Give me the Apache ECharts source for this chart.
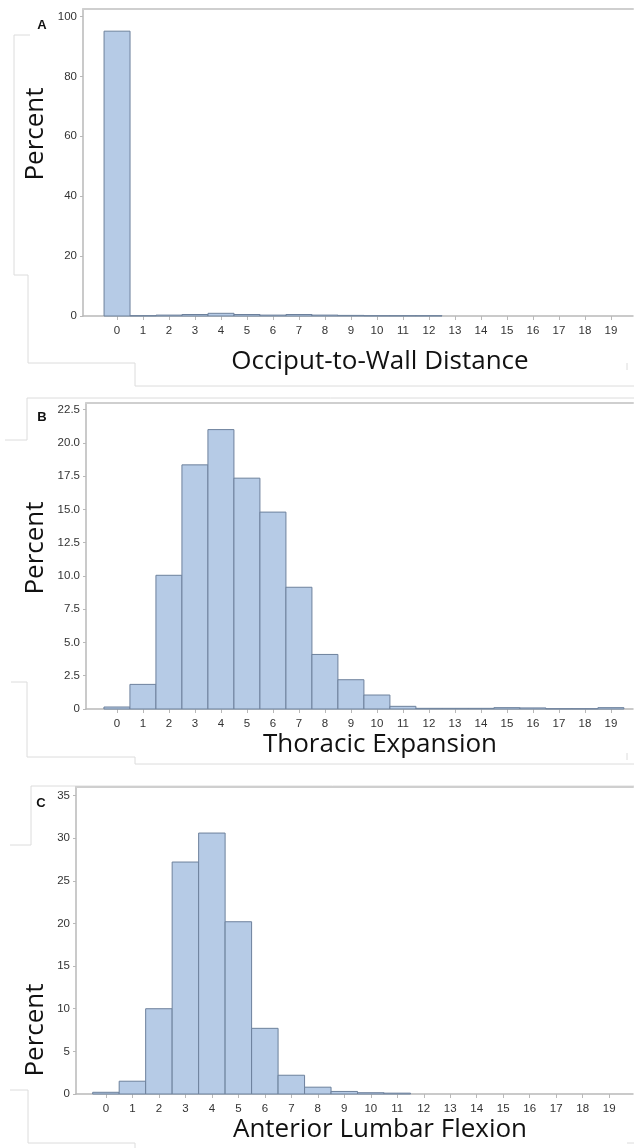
<!DOCTYPE html>
<html><head><meta charset="utf-8">
<script src="https://cdn.jsdelivr.net/npm/echarts@6/dist/echarts.min.js"></script>
<style>html,body{margin:0;padding:0;background:#fff}#c{width:634px;height:1148px}</style>
</head><body><div id="c"></div>
<script>
const bins = [0,1,2,3,4,5,6,7,8,9,10,11,12,13,14,15,16,17,18,19];
const occiputPct = [95.1,0.1,0.3,0.5,0.9,0.5,0.3,0.5,0.3,0.2,0.1,0.1,0.1,0,0,0,0,0,0,0];
const thoracicPct = [0.15,1.85,10.05,18.35,21.0,17.35,14.8,9.15,4.1,2.2,1.05,0.2,0.05,0.05,0.05,0.1,0.08,0.02,0.02,0.1];
const lumbarPct = [0.2,1.5,10.0,27.2,30.6,20.2,7.7,2.2,0.8,0.3,0.15,0.1,0,0,0,0,0,0,0,0];
const yTicksA = [0,20,40,60,80,100];
const yTicksB = [0,2.5,5,7.5,10,12.5,15,17.5,20,22.5];
const yTicksC = [0,5,10,15,20,25,30,35];
const panelLetters = ['A','B','C'];
const xTitles = ['Occiput-to-Wall Distance','Thoracic Expansion','Anterior Lumbar Flexion'];
const yTitle = 'Percent';

const panels = [
  {data: occiputPct, yTicks: yTicksA, yFmt: v => String(v), grid:{left:83, top:9, right:1, height:307}, xmin:-1.31, xmax:19.85, ymax:102.5},
  {data: thoracicPct, yTicks: yTicksB, yFmt: v => v===0?'0':v.toFixed(1), grid:{left:86, top:403, right:1, height:306}, xmin:-1.19, xmax:19.85, ymax:23.0},
  {data: lumbarPct, yTicks: yTicksC, yFmt: v => String(v), grid:{left:76, top:787, right:1, height:307}, xmin:-1.13, xmax:19.9, ymax:36.0}
];

const axisGray = '#b9b9b9';
const labelStyle = {color:'#333333', fontFamily:'Liberation Sans, Arial, sans-serif', fontSize:11.5};

function renderBin(params, api){
  const x = api.value(0), y = api.value(1);
  if (!(y > 0)) return null;
  const p0 = api.coord([x-0.5, y]);
  const p1 = api.coord([x+0.5, 0]);
  return {type:'rect', shape:{x:p0[0], y:p0[1], width:p1[0]-p0[0], height:p1[1]-p0[1]},
    style:{fill:'#b6cbe6', stroke:'#6d819c', lineWidth:1}};
}

const grid=[], xAxis=[], yAxis=[], series=[];
panels.forEach((p,i)=>{
  grid.push(p.grid);
  xAxis.push({type:'value', gridIndex:i, min:p.xmin, max:p.xmax,
    axisLine:{show:true, onZero:false, lineStyle:{color:axisGray, width:1.5}},
    axisTick:{show:true, customValues:bins, length:4, lineStyle:{color:axisGray}},
    axisLabel:{show:true, customValues:bins, margin:9, ...labelStyle},
    splitLine:{show:false}});
  xAxis.push({type:'value', gridIndex:i, position:'top', min:p.xmin, max:p.xmax,
    axisLine:{show:true, onZero:false, lineStyle:{color:'#cfcfcf', width:2}},
    axisTick:{show:false}, axisLabel:{show:false}, splitLine:{show:false}});
  yAxis.push({type:'value', gridIndex:i, min:0, max:p.ymax,
    axisLine:{show:true, onZero:false, lineStyle:{color:axisGray, width:1.5}},
    axisTick:{show:true, customValues:p.yTicks, length:3, lineStyle:{color:axisGray}},
    axisLabel:{show:true, customValues:p.yTicks, margin:6, formatter:p.yFmt, ...labelStyle},
    splitLine:{show:false}});
  series.push({type:'custom', xAxisIndex:i*2, yAxisIndex:i, renderItem:renderBin,
    data: bins.map((b,k)=>[b, p.data[k]]), clip:false, silent:true});
});

const deco = '#dcdcdc';
function seg(pts){ return {type:'polyline', shape:{points:pts}, style:{stroke:deco, lineWidth:1, fill:null}, silent:true}; }
const graphics = [
  seg([[30,35],[14,35],[14,275],[28,275],[28,363],[135,363],[135,386],[634,386]]),
  seg([[634,398],[27,398],[27,440],[5,440]]),
  seg([[11,682],[27,682],[27,757],[135,757],[135,764],[634,764]]),
  seg([[634,786],[31,786],[31,845],[10,845]]),
  seg([[10,1090],[28,1090],[28,1143],[135,1143],[135,1148]]),
  seg([[627,363],[627,370]]), seg([[627,753],[627,760]]), seg([[627,1143],[634,1143]])
];
const letterPos = [[42,25],[42,417],[41,803]];
letterPos.forEach((pt,i)=>graphics.push({type:'text', x:pt[0], y:pt[1],
  style:{text:panelLetters[i], font:'bold 13px Liberation Sans, Arial, sans-serif', fill:'#111', align:'center', verticalAlign:'middle'}}));
const titlePos = [[380,362],[380,745],[380,1130]];
titlePos.forEach((pt,i)=>graphics.push({type:'text', x:pt[0], y:pt[1],
  style:{text:xTitles[i], font:'26px Open Sans, sans-serif', fill:'#111', align:'center', verticalAlign:'middle'}}));
const pctPos = [[36,134],[36,548],[36,1030]];
pctPos.forEach(pt=>graphics.push({type:'text', x:pt[0], y:pt[1], rotation:Math.PI/2,
  style:{text:yTitle, font:'26px Open Sans, sans-serif', fill:'#111', align:'center', verticalAlign:'middle'}}));

const chart = echarts.init(document.getElementById('c'), null, {renderer:'canvas'});
chart.setOption({animation:false, backgroundColor:'#fff', grid, xAxis, yAxis, series, graphic:graphics});
</script></body></html>
